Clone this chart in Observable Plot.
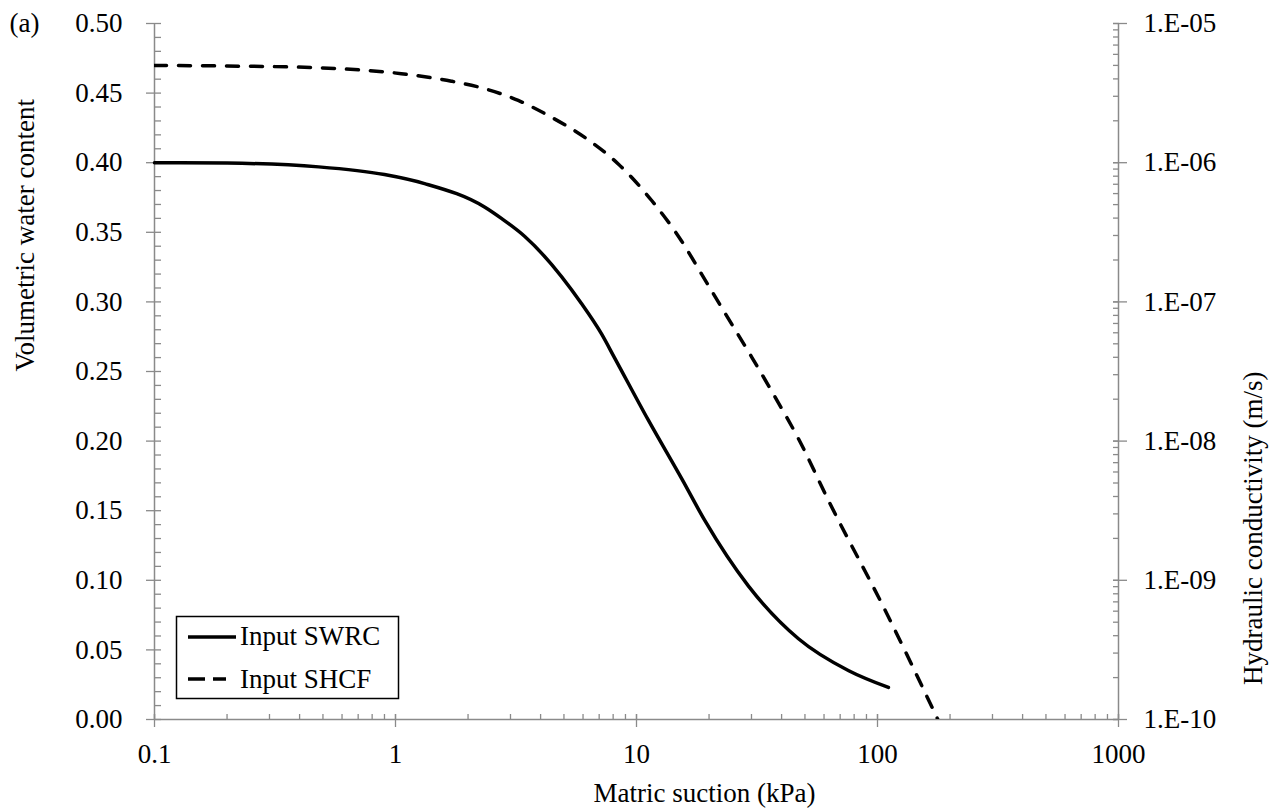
<!DOCTYPE html>
<html><head><meta charset="utf-8">
<script src="https://cdn.jsdelivr.net/npm/d3@7"></script>
<script src="https://cdn.jsdelivr.net/npm/@observablehq/plot@0.6"></script>
<style>
body{margin:0;background:#fff;}
#wrap{position:relative;width:1284px;height:812px;background:#fff;}
#wrap svg{position:absolute;left:0;top:0;}
</style></head><body><div id="wrap"></div>
<script>
// ---- data ----
const suctionSWRC = [0.1, 0.2, 0.48, 0.9, 1.32, 2.35, 2.75, 3.44, 5.9, 7.16, 8.1, 11.2, 15.4, 19.2, 29.1, 47, 76, 111];
const thetaSWRC   = [0.400, 0.3997, 0.397, 0.3915, 0.385, 0.368, 0.360, 0.347, 0.299, 0.277, 0.260, 0.215, 0.173, 0.143, 0.096, 0.058, 0.035, 0.023];
const suctionSHCF = [0.1, 0.2, 0.477, 1.057, 1.706, 2.345, 3.23, 4.44, 6.1, 8.4, 11.56, 15.4, 18.6, 23.3, 30.1, 37.6, 47, 62.6, 107.7, 178];
const kSHCF       = [5.0e-6, 4.95e-6, 4.81e-6, 4.36e-6, 3.85e-6, 3.40e-6, 2.80e-6, 2.12e-6, 1.52e-6, 9.8e-7, 5.35e-7, 2.73e-7, 1.59e-7, 8.3e-8, 4.0e-8, 2.07e-8, 1.04e-8, 3.74e-9, 6.07e-10, 1.0e-10];
const seriesNames = ["Input SWRC", "Input SHCF"];
const xTicks = [0.1, 1, 10, 100, 1000];
const xTickLabels = ["0.1", "1", "10", "100", "1000"];
const yTicks = [0, 0.05, 0.1, 0.15, 0.2, 0.25, 0.3, 0.35, 0.4, 0.45, 0.5];
const yTickLabels = ["0.00", "0.05", "0.10", "0.15", "0.20", "0.25", "0.30", "0.35", "0.40", "0.45", "0.50"];
const kTicks = [1e-10, 1e-9, 1e-8, 1e-7, 1e-6, 1e-5];
const kTickLabels = ["1.E-10", "1.E-09", "1.E-08", "1.E-07", "1.E-06", "1.E-05"];
const xTitle = "Matric suction (kPa)";
const yTitle = "Volumetric water content";
const y2Title = "Hydraulic conductivity (m/s)";
const panelTag = "(a)";

// minor tick positions
const xMinor = [];
for (const d of [0.1, 1, 10, 100]) for (let m = 1; m <= 9; m++) xMinor.push(d * m);
xMinor.push(1000);
const yMinor = d3.range(0, 51).map(i => i / 100);
const kMinor = [];
for (const d of [1e-10, 1e-9, 1e-8, 1e-7, 1e-6]) for (let m = 1; m <= 9; m++) kMinor.push(d * m);
kMinor.push(1e-5);

const swrc = suctionSWRC.map((s, i) => ({s, v: thetaSWRC[i]}));
const shcf = suctionSHCF.map((s, i) => ({s, k: kSHCF[i]}));

// ---- layout ----
const W = 1284, H = 812;
const M = {marginLeft: 154, marginRight: 166, marginTop: 23, marginBottom: 93};
const font = "'Liberation Serif','Times New Roman',serif";
const gray = "#8a8a8a";
const style = {fontFamily: font, fontSize: "27px", color: "black", background: "transparent", overflow: "visible"};
const lab = (arr, labels) => d => labels[arr.indexOf(d)];

const p1 = Plot.plot({
  width: W, height: H, ...M, style,
  x: {type: "log", domain: [0.1, 1000], axis: null},
  y: {domain: [0, 0.5], axis: null},
  marks: [
    Plot.ruleX([0.1], {stroke: gray, strokeWidth: 1.5}),
    Plot.ruleY([0], {stroke: gray, strokeWidth: 1.5}),
    Plot.axisY(yTicks, {anchor: "left", tickSize: 8, stroke: gray, strokeWidth: 1.3, fill: "none", label: null}),
    Plot.axisY(yMinor, {anchor: "left", tickSize: 7, dx: 7, stroke: gray, strokeWidth: 1.3, fill: "none", label: null}),
    Plot.axisY(yTicks, {anchor: "left", tickSize: 0, tickPadding: 32, tickFormat: lab(yTicks, yTickLabels), fill: "black", label: null}),
    Plot.axisX(xTicks, {anchor: "bottom", tickSize: 13, dy: -5, stroke: gray, strokeWidth: 1.3, fill: "none", label: null}),
    Plot.axisX(xMinor, {anchor: "bottom", tickSize: 5, dy: -5, stroke: gray, strokeWidth: 1.3, fill: "none", label: null}),
    Plot.axisX(xTicks, {anchor: "bottom", tickSize: 0, tickPadding: 24, tickFormat: lab(xTicks, xTickLabels), fill: "black", label: null}),
    Plot.line(swrc, {x: "s", y: "v", stroke: "black", strokeWidth: 3.5, curve: "monotone-x"}),
    Plot.text([yTitle], {frameAnchor: "left", rotate: -90, lineAnchor: "middle", dx: -129, fill: "black"}),
    Plot.text([xTitle], {frameAnchor: "bottom", lineAnchor: "middle", dx: 68, dy: 74, fill: "black"}),
    Plot.text([panelTag], {frameAnchor: "top-left", textAnchor: "start", lineAnchor: "middle", dx: -145, dy: 0, fill: "black"})
  ]
});

const p2 = Plot.plot({
  width: W, height: H, ...M, style,
  x: {type: "log", domain: [0.1, 1000], axis: null},
  y: {type: "log", domain: [1e-10, 1e-5], axis: null},
  marks: [
    Plot.ruleX([1000], {stroke: gray, strokeWidth: 1.5}),
    Plot.axisY(kTicks, {anchor: "right", tickSize: 14, dx: -6, stroke: gray, strokeWidth: 1.3, fill: "none", label: null}),
    Plot.axisY(kMinor, {anchor: "right", tickSize: 6, dx: -6, stroke: gray, strokeWidth: 1.3, fill: "none", label: null}),
    Plot.axisY(kTicks, {anchor: "right", tickSize: 0, tickPadding: 25, tickFormat: lab(kTicks, kTickLabels), fill: "black", label: null}),
    Plot.line(shcf, {x: "s", y: "k", stroke: "black", strokeWidth: 3.5, strokeDasharray: "12,12", curve: "monotone-x", clip: true}),
    Plot.text([y2Title], {frameAnchor: "right", rotate: -90, lineAnchor: "middle", dx: 135, fill: "black"})
  ]
});

const wrap = document.getElementById("wrap");
wrap.appendChild(p1);
wrap.appendChild(p2);

// ---- legend ----
const leg = d3.select(wrap).append("svg").attr("width", W).attr("height", H)
  .style("font-family", font).style("font-size", "27px");
leg.append("rect").attr("x", 176.5).attr("y", 616.5).attr("width", 222).attr("height", 82)
  .attr("fill", "white").attr("stroke", "black").attr("stroke-width", 1.5);
leg.append("line").attr("x1", 188).attr("x2", 236).attr("y1", 637).attr("y2", 637)
  .attr("stroke", "black").attr("stroke-width", 3.5);
leg.append("line").attr("x1", 188).attr("x2", 226).attr("y1", 679).attr("y2", 679)
  .attr("stroke", "black").attr("stroke-width", 3.5).attr("stroke-dasharray", "17,8");
leg.append("text").attr("x", 240).attr("y", 645).text(seriesNames[0]);
leg.append("text").attr("x", 240).attr("y", 688).text(seriesNames[1]);
</script></body></html>
